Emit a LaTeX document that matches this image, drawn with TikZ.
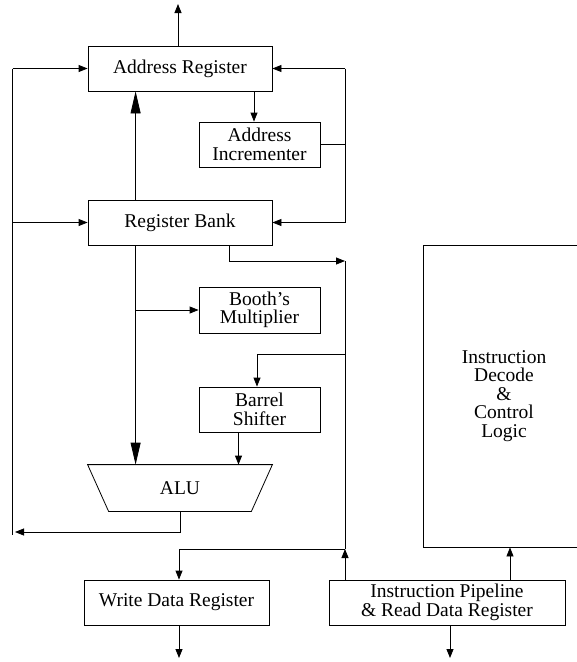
\documentclass[tikz,border=0pt]{standalone}
\usepackage{fontspec}
\setmainfont{Liberation Serif}
\usetikzlibrary{arrows.meta,calc}
\begin{document}
\begin{tikzpicture}[x=1pt,y=-1pt,
  wire/.style={line width=0.8pt},
  arr/.style={wire,-{Triangle[length=9pt,width=7pt]}},
  bigarr/.style={wire,-{Triangle[length=22pt,width=10pt]}},
  block/.style={draw,line width=0.8pt,inner sep=0pt,align=center,
    font=\fontsize{19.5}{18.5}\selectfont},
  wide/.style={block,minimum width=184pt,minimum height=45pt},
  unit/.style={block,minimum width=121pt,minimum height=45pt},
]
\useasboundingbox (0,0) rectangle (577,662);

% datapath blocks
\node[wide] (ar) at (180,68.5) {Address Register};
\node[unit] (ai) at (259.5,144.5) {Address\\Incrementer};
\node[wide] (rb) at (180,222.5) {Register Bank};
\node[unit,minimum height=46pt] (bm) at (259.5,310) {Booth's\\Multiplier};
\node[unit] (bs) at (259.5,409.5) {Barrel\\Shifter};
\node[block,draw=none,minimum width=184pt,minimum height=46pt] (alu) at (180,488) {ALU};
\draw[wire] (alu.north west) -- (alu.north east)
  -- ([xshift=-21pt]alu.south east) -- ([xshift=21pt]alu.south west) -- cycle;
\node[block,minimum width=185pt,minimum height=45pt] (wd) at (176.5,602.5) {Write Data Register};
\node[block,minimum width=236pt,minimum height=45pt] (ip) at (447,602.5) {Instruction Pipeline\\\& Read Data Register};
\node[block,minimum width=162pt,minimum height=302pt] (dec) at (504,396) {Instruction\\Decode\\\&\\Control\\Logic};

% bus points
\coordinate (lt) at (12.7,68.5);
\coordinate (lb) at (12.7,535);
\coordinate (aluout) at (15,532);
\coordinate (rt) at (345,68.5);
\coordinate (dtop) at (345,261);
\coordinate (dbot) at (345,549);
\coordinate (bfeed) at (345,354);
\coordinate (lv) at ([xshift=48pt]rb.south west);
\coordinate (bsout) at ([xshift=-21pt]bs.south);
\coordinate (aout) at (178,4);
\coordinate (wout) at (179,658);
\coordinate (iout) at (450,658);
\coordinate (ipdec) at (510,580);

% address out
\draw[arr] (aout |- ar.north) -- (aout);

% left result bus
\draw[wire] (lt) -- (lb);
\draw[arr] (lt) -- (ar.west);
\draw[arr] (lt |- rb.west) -- (rb.west);
\draw[arr] (alu.south) |- (aluout);

% incrementer loop
\draw[arr] ([xshift=-5.5pt]ai.north |- ar.south) -- ([xshift=-5.5pt]ai.north);
\draw[wire] (rt) -- (rt |- rb.east);
\draw[arr] (rt) -- (ar.east);
\draw[arr] (rt |- rb.east) -- (rb.east);
\draw[wire] (ai.east) -- (ai.east -| rt);

% register bank to address register and ALU
\draw[bigarr] ([xshift=48pt]rb.north west) -- ([xshift=48pt]ar.south west);
\draw[bigarr] (lv) -- ([xshift=48pt]alu.north west);
\draw[arr] (lv |- bm.west) -- (bm.west);

% data bus
\draw[arr] ([xshift=49pt]rb.south) |- (dtop);
\draw[wire] (dtop) -- (dbot);
\draw[arr] (bfeed) -| ([xshift=-2.5pt]bs.north);
\draw[arr] (bsout) -- (bsout |- alu.north);
\draw[arr] (dbot) -| ([xshift=2.5pt]wd.north);
\draw[arr] (ip.north -| dbot) -- (dbot);
\draw[arr] (ipdec) -- (ipdec |- dec.south);

% external outputs
\draw[arr] (wout |- wd.south) -- (wout);
\draw[arr] (iout |- ip.south) -- (iout);
\end{tikzpicture}
\end{document}
